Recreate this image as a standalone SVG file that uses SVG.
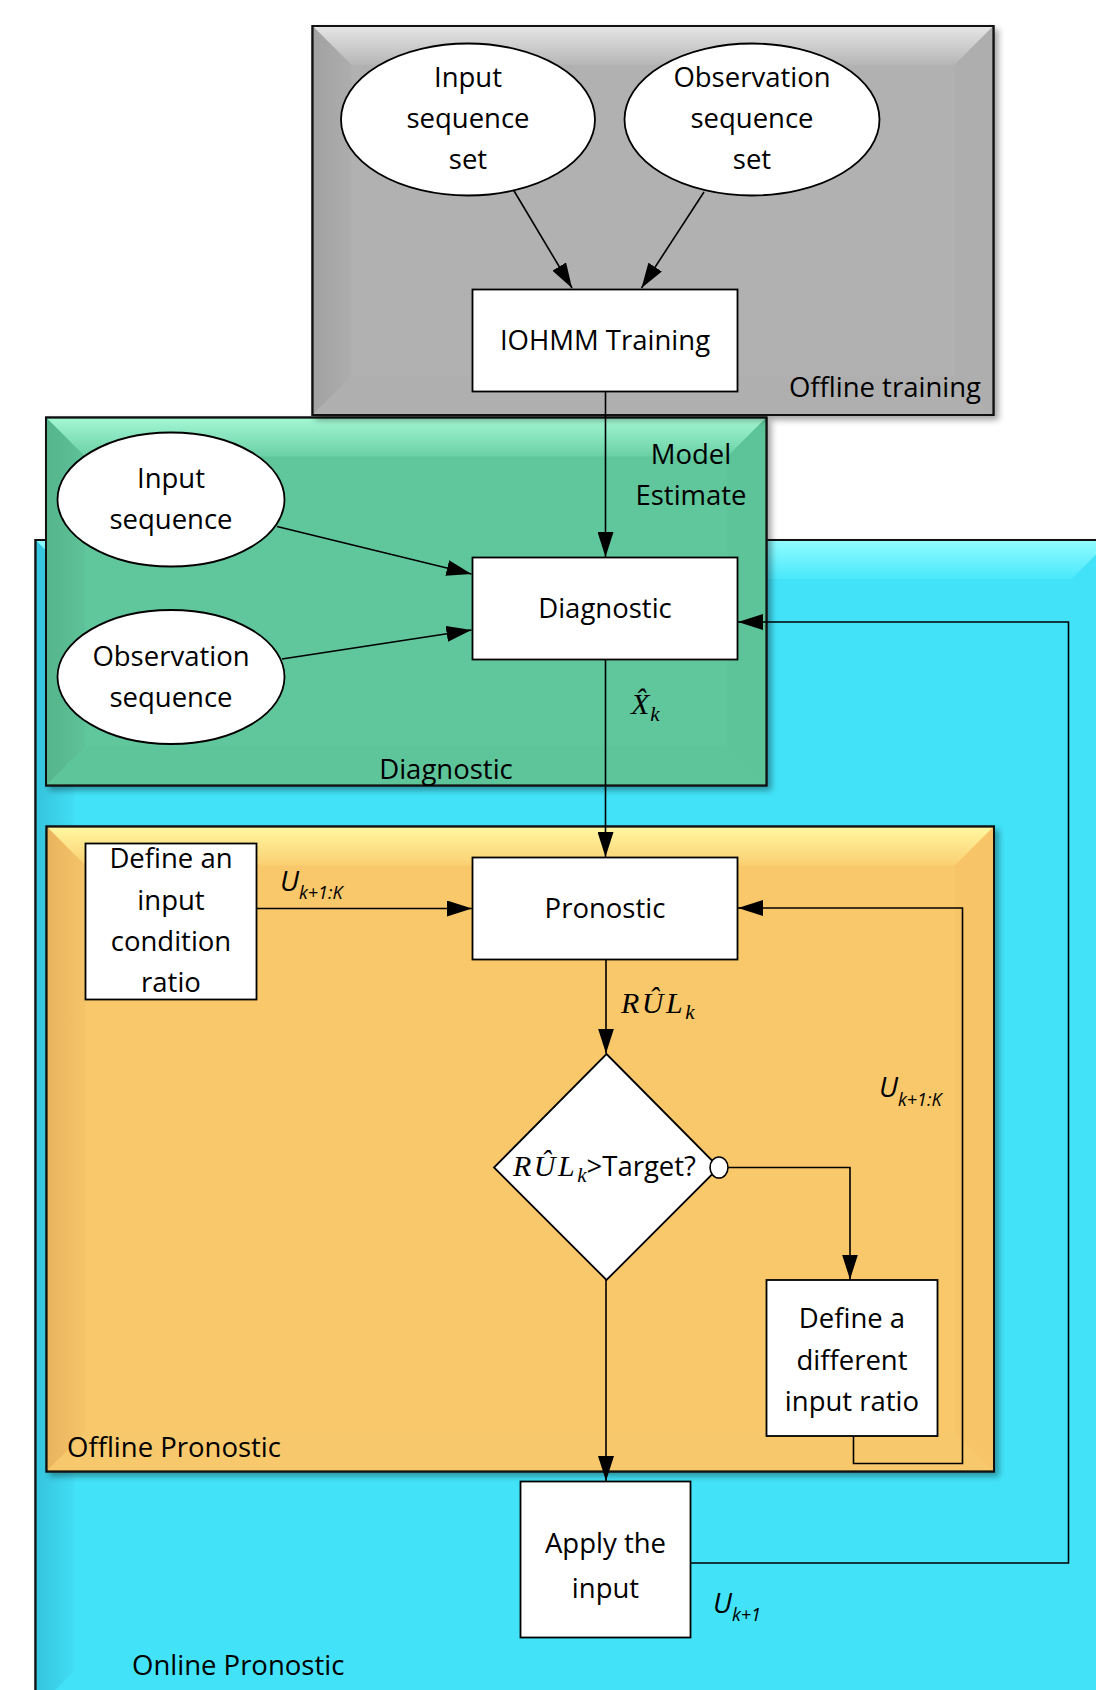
<svg xmlns="http://www.w3.org/2000/svg" width="1096" height="1690" viewBox="0 0 1096 1690">
<style>
.lbl{font-family:"Open Sans","Liberation Sans",sans-serif;font-size:27.5px;fill:#000}
.c{text-anchor:middle}
.node{fill:#fff;stroke:#000;stroke-width:1.8}
.panel{stroke:#111;stroke-width:2}
.edge{fill:none;stroke:#000;stroke-width:1.6}
.ui{font-family:"Open Sans","Liberation Sans",sans-serif;font-style:italic;fill:#000}
.m{font-family:"Liberation Serif","DejaVu Serif",serif;font-style:italic;fill:#000}
</style>
<defs>
<filter id="sh" x="-5%" y="-5%" width="110%" height="110%">
<feDropShadow dx="4" dy="4" stdDeviation="3" flood-color="#000" flood-opacity="0.35"/>
</filter>
<marker id="ah" markerWidth="25" markerHeight="16" refX="25" refY="8" orient="auto" markerUnits="userSpaceOnUse">
<path d="M0,0 L25,8 L0,16 z" fill="#000"/>
</marker>
<linearGradient id="gT" x1="0" y1="0" x2="0" y2="1"><stop offset="0" stop-color="#e4e4e4"/><stop offset="1" stop-color="#b6b6b6"/></linearGradient>
<linearGradient id="gL" x1="0" y1="0" x2="1" y2="0"><stop offset="0" stop-color="#a2a2a2"/><stop offset="1" stop-color="#adadad"/></linearGradient>
<linearGradient id="eT" x1="0" y1="0" x2="0" y2="1"><stop offset="0" stop-color="#a3f7d3"/><stop offset="1" stop-color="#6ad0a5"/></linearGradient>
<linearGradient id="eL" x1="0" y1="0" x2="1" y2="0"><stop offset="0" stop-color="#55b48b"/><stop offset="1" stop-color="#5ec298"/></linearGradient>
<linearGradient id="cT" x1="0" y1="0" x2="0" y2="1"><stop offset="0" stop-color="#8ffcff"/><stop offset="1" stop-color="#4ae8fb"/></linearGradient>
<linearGradient id="cL" x1="0" y1="0" x2="1" y2="0"><stop offset="0" stop-color="#35c4dd"/><stop offset="1" stop-color="#41def4"/></linearGradient>
<linearGradient id="oT" x1="0" y1="0" x2="0" y2="1"><stop offset="0" stop-color="#fff7a0"/><stop offset="1" stop-color="#fbcf72"/></linearGradient>
<linearGradient id="oL" x1="0" y1="0" x2="1" y2="0"><stop offset="0" stop-color="#e9b45e"/><stop offset="1" stop-color="#f5c468"/></linearGradient>
</defs>

<!-- Online Pronostic panel -->
<g id="panel-online">
<rect class="panel" x="35.5" y="540" width="1075" height="1170" fill="#43e3f9" filter="url(#sh)"/>
<polygon points="36.5,541 1109.5,541 1071.5,579 74.5,579" fill="url(#cT)"/>
<polygon points="36.5,541 74.5,579 74.5,1671 36.5,1709" fill="url(#cL)"/>
<rect x="35.5" y="540" width="1075" height="1170" fill="none" stroke="#111" stroke-width="2"/>
<text class="lbl" x="132" y="1675">Online Pronostic</text>
</g>

<!-- Offline Pronostic panel -->
<g id="panel-offline-pronostic">
<rect class="panel" x="46.5" y="826.5" width="947.5" height="645" fill="#f9c86a" filter="url(#sh)"/>
<polygon points="47.5,827.5 993,827.5 955,865.5 85.5,865.5" fill="url(#oT)"/>
<polygon points="47.5,827.5 85.5,865.5 85.5,1432.5 47.5,1470.5" fill="url(#oL)"/>
<polygon points="993,827.5 993,1470.5 955,1432.5 955,865.5" fill="#f7c468"/>
<polygon points="47.5,1470.5 85.5,1432.5 955,1432.5 993,1470.5" fill="#f8c96c"/>
<rect x="46.5" y="826.5" width="947.5" height="645" fill="none" stroke="#111" stroke-width="2"/>
<text class="lbl" x="67" y="1457">Offline Pronostic</text>
</g>

<!-- Diagnostic panel -->
<g id="panel-diagnostic">
<rect class="panel" x="46" y="417.5" width="720.5" height="368" fill="#60c69b" filter="url(#sh)"/>
<polygon points="47,418.5 765.5,418.5 727.5,456.5 85,456.5" fill="url(#eT)"/>
<polygon points="47,418.5 85,456.5 85,746.5 47,784.5" fill="url(#eL)"/>
<polygon points="765.5,418.5 765.5,784.5 727.5,746.5 727.5,456.5" fill="#5dc398"/>
<polygon points="47,784.5 85,746.5 727.5,746.5 765.5,784.5" fill="#5ec499"/>
<rect x="46" y="417.5" width="720.5" height="368" fill="none" stroke="#111" stroke-width="2"/>
<text class="lbl c" x="691" y="464">Model</text>
<text class="lbl c" x="691" y="505">Estimate</text>
<text class="lbl c" x="446" y="779">Diagnostic</text>
</g>

<!-- Offline training panel -->
<g id="panel-training">
<rect class="panel" x="312.5" y="26" width="681" height="389" fill="#b1b1b1" filter="url(#sh)"/>
<polygon points="313.5,27 992.5,27 954.5,65 351.5,65" fill="url(#gT)"/>
<polygon points="313.5,27 351.5,65 351.5,376 313.5,414" fill="url(#gL)"/>
<polygon points="992.5,27 992.5,414 954.5,376 954.5,65" fill="#aeaeae"/>
<polygon points="313.5,414 351.5,376 954.5,376 992.5,414" fill="#afafaf"/>
<rect x="312.5" y="26" width="681" height="389" fill="none" stroke="#111" stroke-width="2"/>
<text class="lbl" x="981" y="397" text-anchor="end">Offline training</text>
</g>

<!-- Nodes -->
<g id="input-sequence-set">
<ellipse class="node" cx="468" cy="119.5" rx="127" ry="76"/>
<text class="lbl c" x="468" y="87">Input</text>
<text class="lbl c" x="468" y="128">sequence</text>
<text class="lbl c" x="468" y="169">set</text>
</g>
<g id="observation-sequence-set">
<ellipse class="node" cx="752" cy="119.5" rx="127.5" ry="76"/>
<text class="lbl c" x="752" y="87">Observation</text>
<text class="lbl c" x="752" y="128">sequence</text>
<text class="lbl c" x="752" y="169">set</text>
</g>
<g id="iohmm-training">
<rect class="node" x="472.5" y="289.5" width="265" height="102"/>
<text class="lbl c" x="605" y="349.5">IOHMM Training</text>
</g>
<g id="input-sequence">
<ellipse class="node" cx="171" cy="499.5" rx="113.5" ry="67"/>
<text class="lbl c" x="171" y="488">Input</text>
<text class="lbl c" x="171" y="529">sequence</text>
</g>
<g id="observation-sequence">
<ellipse class="node" cx="171" cy="677" rx="113.5" ry="67"/>
<text class="lbl c" x="171" y="666">Observation</text>
<text class="lbl c" x="171" y="707">sequence</text>
</g>
<g id="diagnostic">
<rect class="node" x="472.5" y="557.5" width="265" height="102"/>
<text class="lbl c" x="605" y="617.5">Diagnostic</text>
</g>
<g id="pronostic">
<rect class="node" x="472.5" y="857.5" width="265" height="102"/>
<text class="lbl c" x="605" y="917.5">Pronostic</text>
</g>
<g id="define-input-condition">
<rect class="node" x="85.5" y="843.5" width="171" height="156"/>
<text class="lbl c" x="171" y="868">Define an</text>
<text class="lbl c" x="171" y="910">input</text>
<text class="lbl c" x="171" y="951">condition</text>
<text class="lbl c" x="171" y="992">ratio</text>
</g>
<g id="decision">
<polygon class="node" points="606.5,1054 719,1167.5 606.5,1280 494,1167.5"/>
<text x="513" y="1176"><tspan class="m" font-size="30" letter-spacing="2.5">RÛL</tspan><tspan class="m" font-size="21" dy="6">k</tspan><tspan class="lbl" dy="-6">&gt;Target?</tspan></text>
<ellipse cx="719" cy="1167.5" rx="9" ry="10.5" fill="#fff" stroke="#000" stroke-width="1.6"/>
</g>
<g id="define-different">
<rect class="node" x="766.5" y="1280" width="171" height="156"/>
<text class="lbl c" x="852" y="1328">Define a</text>
<text class="lbl c" x="852" y="1370">different</text>
<text class="lbl c" x="852" y="1411">input ratio</text>
</g>
<g id="apply-input">
<rect class="node" x="520.5" y="1481.5" width="170" height="156"/>
<text class="lbl c" x="605.5" y="1553">Apply the</text>
<text class="lbl c" x="605.5" y="1598">input</text>
</g>

<!-- Connectors -->
<g id="connectors">
<line class="edge" x1="513.5" y1="190" x2="572" y2="288" marker-end="url(#ah)"/>
<line class="edge" x1="704" y1="192" x2="641.5" y2="288" marker-end="url(#ah)"/>
<line class="edge" x1="605.5" y1="391.5" x2="605.5" y2="557" marker-end="url(#ah)"/>
<line class="edge" x1="277" y1="526.5" x2="471.5" y2="574" marker-end="url(#ah)"/>
<line class="edge" x1="282" y1="659" x2="471.5" y2="630" marker-end="url(#ah)"/>
<line class="edge" x1="605.5" y1="659.5" x2="605.5" y2="857" marker-end="url(#ah)"/>
<line class="edge" x1="256.5" y1="908.5" x2="472" y2="908.5" marker-end="url(#ah)"/>
<line class="edge" x1="606" y1="959.5" x2="606" y2="1053.5" marker-end="url(#ah)"/>
<polyline class="edge" points="728,1167.5 850,1167.5 850,1279.5" marker-end="url(#ah)"/>
<polyline class="edge" points="853.5,1436 853.5,1463.5 962.5,1463.5 962.5,908 738,908" marker-end="url(#ah)"/>
<line class="edge" x1="606" y1="1280" x2="606" y2="1481" marker-end="url(#ah)"/>
<polyline class="edge" points="690.5,1563 1068.5,1563 1068.5,622 738,622" marker-end="url(#ah)"/>
</g>

<!-- Edge labels -->
<g id="edge-labels">
<text class="m" x="631" y="714" font-size="30">X̂<tspan font-size="21" dx="1" dy="7">k</tspan></text>
<text x="621" y="1013"><tspan class="m" font-size="30" letter-spacing="2.5">RÛL</tspan><tspan class="m" font-size="21" dy="6">k</tspan></text>
<text x="280" y="891"><tspan class="ui" font-size="28">U</tspan><tspan class="ui" font-size="18" dy="8">k+1:K</tspan></text>
<text x="879" y="1097"><tspan class="ui" font-size="28">U</tspan><tspan class="ui" font-size="18" dy="9">k+1:K</tspan></text>
<text x="713" y="1613"><tspan class="ui" font-size="28">U</tspan><tspan class="ui" font-size="18" dy="8">k+1</tspan></text>
</g>
</svg>
